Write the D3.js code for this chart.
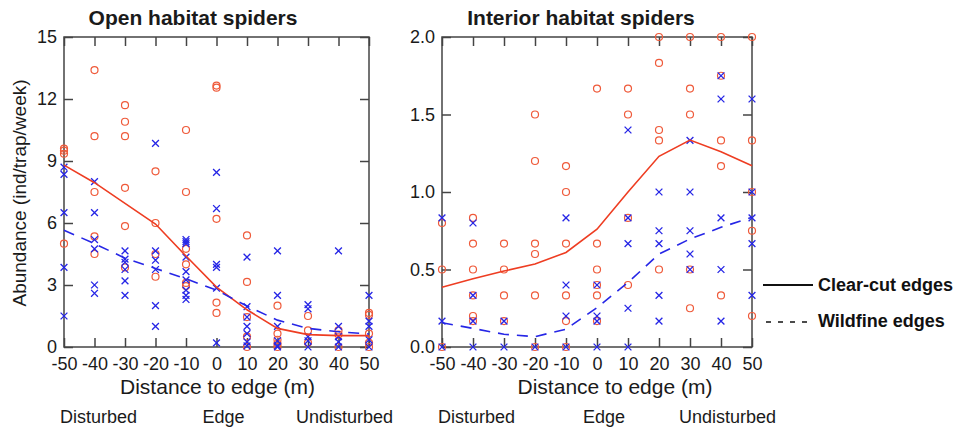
<!DOCTYPE html>
<html>
<head>
<meta charset="utf-8">
<script src="https://cdn.jsdelivr.net/npm/d3@7"></script>
<style>
  body { margin: 0; background: #fff; }
  svg { display: block; font-family: "Liberation Sans", Arial, sans-serif; }
</style>
</head>
<body>
<div id="chart"></div>
<script>

/**
 * Data
 */

const distances = [-50, -40, -30, -20, -10, 0, 10, 20, 30, 40, 50];
const zoneLabels = ['Disturbed', 'Edge', 'Undisturbed'];
const legendLabels = ['Clear-cut edges', 'Wildfine edges'];

// open habitat spiders, one list of trap values per distance
const openClearPts = [
  [9.6, 9.5, 9.35, 5.0],
  [13.4, 10.2, 7.5, 5.35, 4.5],
  [11.7, 10.9, 10.2, 7.7, 5.85, 3.85],
  [8.5, 6.0, 4.5, 3.4],
  [10.5, 7.5, 4.75, 4.0, 3.1, 2.95],
  [12.65, 12.55, 6.2, 2.15, 1.65],
  [5.4, 3.15, 1.45, 0.5, 0],
  [2.0, 0.65, 0.35, 0.15, 0],
  [1.5, 0.8, 0.2],
  [0.8, 0.6, 0],
  [1.65, 1.55, 0.65, 0.2, 0],
];
const openFirePts = [
  [8.7, 8.35, 6.5, 3.85, 1.5],
  [8.0, 6.5, 5.2, 4.75, 3.0, 2.6],
  [4.65, 4.25, 4.1, 3.75, 3.2, 2.5],
  [9.85, 4.65, 4.2, 3.75, 2.0, 1.0],
  [5.2, 5.1, 5.0, 4.35, 3.65, 3.25, 2.75, 2.5, 2.3],
  [8.45, 6.7, 4.0, 3.85, 2.85, 0.2],
  [4.35, 1.95, 1.45, 1.0, 0.65, 0.25, 0.05],
  [4.65, 2.5, 1.0, 0.3, 0.05, 0],
  [2.05, 1.85, 0.5, 0.3, 0],
  [4.65, 1.0, 0.5, 0.25, 0],
  [2.5, 1.25, 1.0, 0.35, 0],
];
const openClearFit = [8.8, 7.95, 6.95, 5.95, 4.4, 2.9, 1.8, 0.9, 0.6, 0.55, 0.55];
const openFireFit = [5.65, 5.0, 4.3, 3.8, 3.3, 2.75, 1.98, 1.3, 0.9, 0.74, 0.63];
const openTicks = [0, 3, 6, 9, 12, 15];

// interior habitat spiders
const intClearPts = [
  [0.8, 0.5, 0],
  [0.833, 0.667, 0.5, 0.333, 0.2, 0.167],
  [0.667, 0.5, 0.333, 0.167],
  [1.5, 1.2, 0.667, 0.6, 0.333, 0],
  [1.167, 1.0, 0.667, 0.333, 0.167, 0],
  [1.667, 0.667, 0.5, 0.4, 0.333, 0.167],
  [1.667, 1.5, 0.833, 0.4],
  [2.0, 1.833, 1.4, 1.333, 0.5],
  [2.0, 1.667, 1.5, 0.5, 0.25],
  [2.0, 1.75, 1.333, 1.167, 0.333],
  [2.0, 1.333, 1.0, 0.75, 0.2],
];
const intFirePts = [
  [0.833, 0.167, 0],
  [0.8, 0.333, 0.167, 0],
  [0.167, 0],
  [0],
  [0.833, 0.4, 0.2, 0],
  [0.4, 0.2, 0.167, 0],
  [1.4, 0.833, 0.667, 0.25, 0],
  [1.0, 0.75, 0.667, 0.333, 0.167],
  [1.333, 1.0, 0.75, 0.6, 0.5],
  [1.75, 1.6, 0.833, 0.5, 0.167],
  [1.6, 1.0, 0.833, 0.667, 0.333],
];
const intClearFit = [0.385, 0.44, 0.49, 0.535, 0.61, 0.76, 1.0, 1.23, 1.335, 1.26, 1.17];
const intFireFit = [0.157, 0.12, 0.082, 0.067, 0.115, 0.254, 0.416, 0.6, 0.697, 0.772, 0.837];
const intTicks = [0, 0.5, 1.0, 1.5, 2.0];


/**
 * Setup
 */

const width = 956;
const height = 428;
const plotTop = 37;
const plotBottom = 347;

const colors = {
  circle: '#ef5a3a',
  clearLine: '#ee3d22',
  fire: '#2626e6',
  axis: '#444',
  text: '#1a1a1a',
};

const svg = d3.select('#chart')
              .append('svg')
              .attr('width', width)
              .attr('height', height);

function flatten(lists) {
  return distances.flatMap((d, i) => lists[i].map(v => ({ d, v })));
}

function styleAxis(sel) {
  sel.select('.domain').remove();
  sel.selectAll('.tick line').attr('stroke', colors.axis).attr('stroke-width', 1.5);
  sel.selectAll('.tick text')
     .attr('font-size', 18)
     .attr('fill', colors.text)
     .attr('font-family', '"Liberation Sans", Arial, sans-serif');
}


/**
 * Draws one panel.
 * @param {object} p - panel settings and data.
 */
function drawPanel(p) {
  const x = d3.scaleLinear().domain([-50, 50]).range([p.x0, p.x1]);
  const y = d3.scaleLinear().domain([0, p.yMax]).range([plotBottom, plotTop]);
  const g = svg.append('g');

  g.append('g')
   .attr('transform', `translate(0,${plotBottom})`)
   .call(d3.axisBottom(x).tickValues(distances).tickSizeInner(-9).tickSizeOuter(0)
           .tickPadding(10).tickFormat(d => String(d)))
   .call(styleAxis);

  g.append('g')
   .attr('transform', `translate(0,${plotTop})`)
   .call(d3.axisTop(x).tickValues(distances).tickSizeInner(-9).tickSizeOuter(0).tickFormat(''))
   .call(styleAxis);

  g.append('g')
   .attr('transform', `translate(${p.x0},0)`)
   .call(d3.axisLeft(y).tickValues(p.ticks).tickSizeInner(-9).tickSizeOuter(0)
           .tickPadding(7).tickFormat(p.format))
   .call(styleAxis);

  g.append('g')
   .attr('transform', `translate(${p.x1},0)`)
   .call(d3.axisRight(y).tickValues(p.ticks).tickSizeInner(-9).tickSizeOuter(0).tickFormat(''))
   .call(styleAxis);

  g.append('rect')
   .attr('x', p.x0)
   .attr('y', plotTop)
   .attr('width', p.x1 - p.x0)
   .attr('height', plotBottom - plotTop)
   .attr('fill', 'none')
   .attr('stroke', colors.axis)
   .attr('stroke-width', 1.5);

  // markers
  g.append('g').selectAll('circle')
   .data(flatten(p.clearPts))
   .enter()
   .append('circle')
   .attr('cx', d => x(d.d))
   .attr('cy', d => y(d.v))
   .attr('r', 3.5)
   .attr('fill', 'none')
   .attr('stroke', colors.circle)
   .attr('stroke-width', 1.2);

  g.append('g').selectAll('path')
   .data(flatten(p.firePts))
   .enter()
   .append('path')
   .attr('transform', d => `translate(${x(d.d)},${y(d.v)})`)
   .attr('d', 'M-3.4,-3.4L3.4,3.4M-3.4,3.4L3.4,-3.4')
   .attr('stroke', colors.fire)
   .attr('stroke-width', 1.3);

  // fitted lines
  const line = d3.line().x((v, i) => x(distances[i])).y(v => y(v));

  g.append('path')
   .attr('d', line(p.clearFit))
   .attr('fill', 'none')
   .attr('stroke', colors.clearLine)
   .attr('stroke-width', 1.6);

  g.append('path')
   .attr('d', line(p.fireFit))
   .attr('fill', 'none')
   .attr('stroke', colors.fire)
   .attr('stroke-width', 1.6)
   .attr('stroke-dasharray', '11,8');

  // texts
  g.append('text')
   .attr('x', p.titleX)
   .attr('y', 25)
   .attr('text-anchor', 'middle')
   .attr('font-size', 21)
   .attr('font-weight', 'bold')
   .attr('fill', colors.text)
   .text(p.title);

  g.append('text')
   .attr('x', x(0) + p.xLabelShift)
   .attr('y', 394)
   .attr('text-anchor', 'middle')
   .attr('font-size', 21)
   .attr('fill', colors.text)
   .text('Distance to edge (m)');

  const zones = g.append('g').attr('font-size', 18).attr('fill', colors.text);
  zones.append('text').attr('x', x(-50) - 4).attr('y', 423).text(zoneLabels[0]);
  zones.append('text').attr('x', x(0) + 7).attr('y', 423)
       .attr('text-anchor', 'middle').text(zoneLabels[1]);
  zones.append('text').attr('x', x(50) + 24).attr('y', 423)
       .attr('text-anchor', 'end').text(zoneLabels[2]);
}


drawPanel({
  x0: 64, x1: 369, yMax: 15, ticks: openTicks, format: d => String(d),
  clearPts: openClearPts, firePts: openFirePts,
  clearFit: openClearFit, fireFit: openFireFit,
  title: 'Open habitat spiders', titleX: 193, xLabelShift: 1,
});

drawPanel({
  x0: 442, x1: 752, yMax: 2, ticks: intTicks, format: d3.format('.1f'),
  clearPts: intClearPts, firePts: intFirePts,
  clearFit: intClearFit, fireFit: intFireFit,
  title: 'Interior habitat spiders', titleX: 581, xLabelShift: 18,
});

svg.append('text')
   .attr('transform', 'translate(26,193) rotate(-90)')
   .attr('text-anchor', 'middle')
   .attr('font-size', 19)
   .attr('fill', colors.text)
   .text('Abundance (ind/trap/week)');


/**
 * Legend
 */

const legend = svg.append('g');

legend.append('line')
      .attr('x1', 763).attr('x2', 813).attr('y1', 285).attr('y2', 285)
      .attr('stroke', '#111').attr('stroke-width', 2);

legend.append('line')
      .attr('x1', 766).attr('x2', 813).attr('y1', 322).attr('y2', 322)
      .attr('stroke', '#111').attr('stroke-width', 1.6)
      .attr('stroke-dasharray', '5,7');

legend.selectAll('text')
      .data(legendLabels)
      .enter()
      .append('text')
      .attr('x', 818)
      .attr('y', (d, i) => 291 + i * 36)
      .attr('font-size', 18)
      .attr('font-weight', 'bold')
      .attr('fill', '#111')
      .text(d => d);

</script>
</body>
</html>
